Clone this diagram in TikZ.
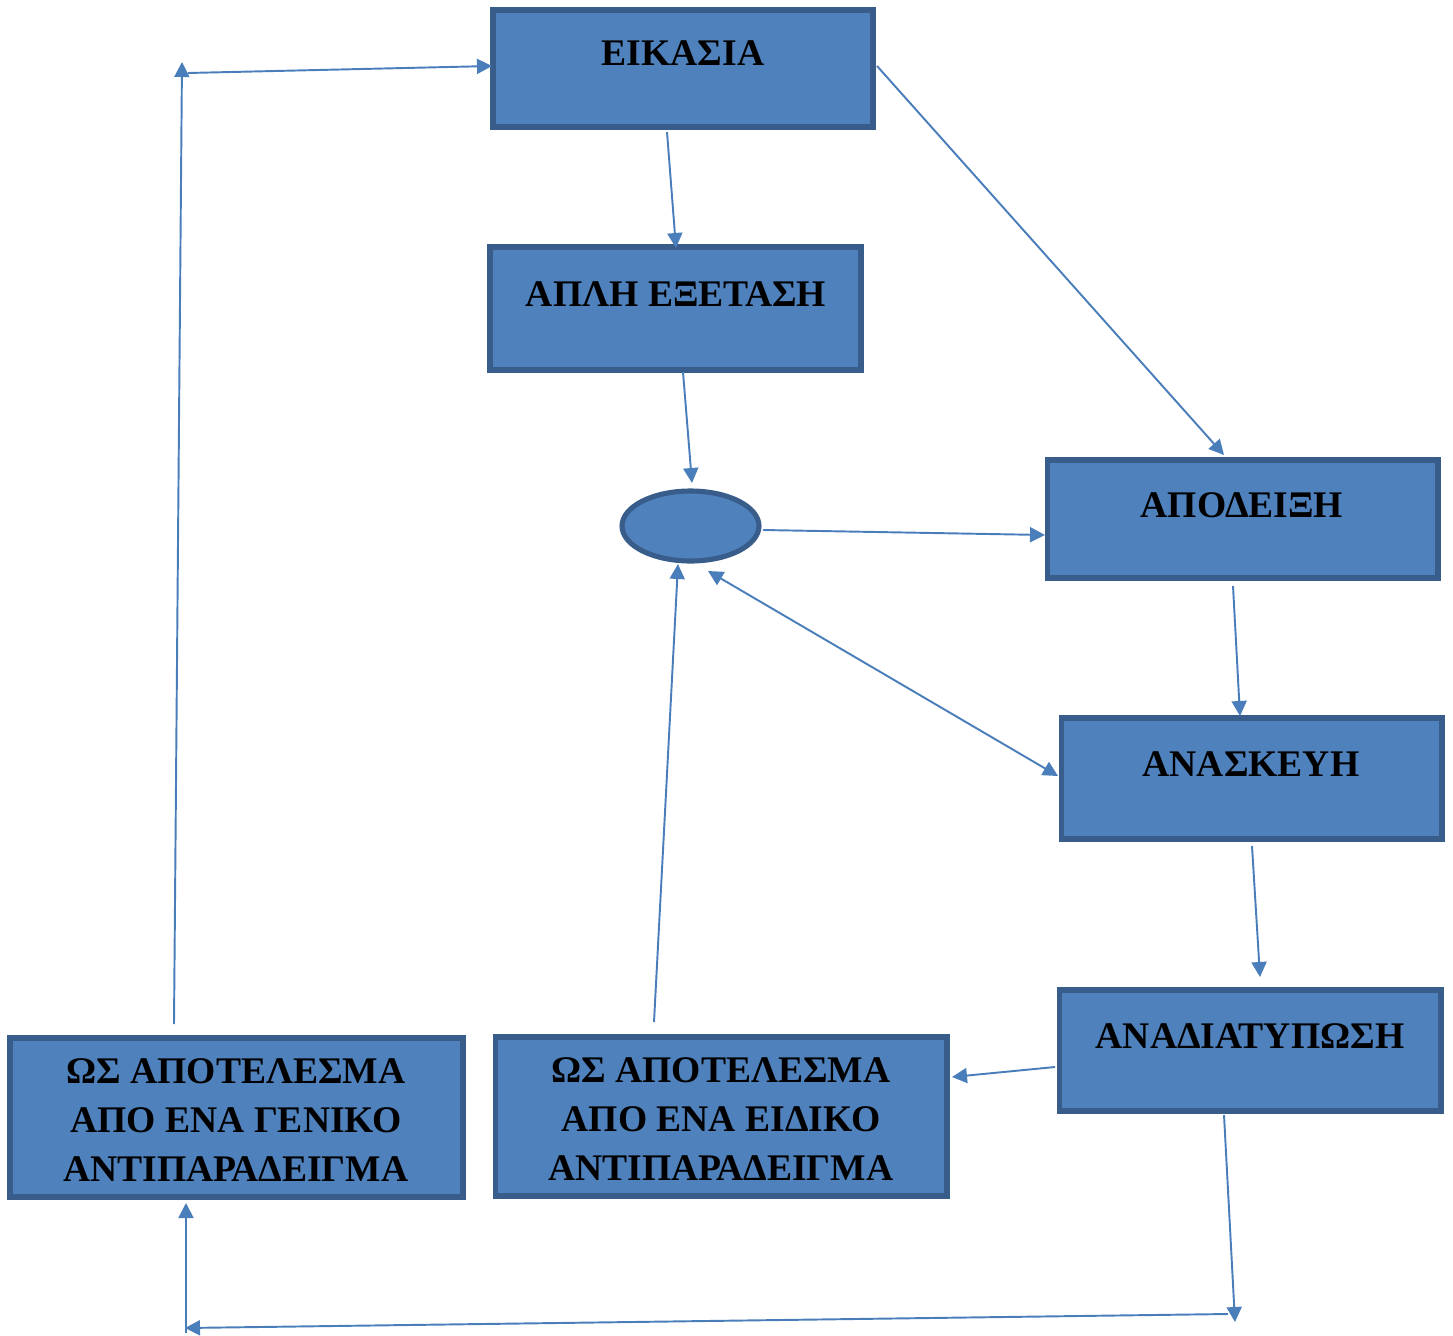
\documentclass[tikz,border=0pt]{standalone}
\usepackage{fontspec}
\setmainfont{Liberation Serif}
\usetikzlibrary{arrows.meta,shapes.geometric}
\definecolor{boxfill}{HTML}{4F81BD}
\definecolor{boxline}{HTML}{385D8A}
\definecolor{arr}{HTML}{4A7EBB}
\begin{document}
\begin{tikzpicture}[x=0.02cm,y=-0.02cm,
  box/.style={draw=boxline,fill=boxfill,line width=2.9pt,rectangle,inner sep=0pt},
  lbl/.style={font=\fontsize{21.4}{27.9}\selectfont\bfseries,align=center,inner sep=0pt,text=black},
  con/.style={draw=arr,line width=1.1pt,-{Triangle[length=0.3cm,width=0.3cm]}},
  con2/.style={draw=arr,line width=1.1pt,{Triangle[length=0.3cm,width=0.3cm]}-{Triangle[length=0.3cm,width=0.3cm]}}]
\useasboundingbox (0,0) rectangle (1453,1335);
% boxes
\node[box,minimum width=7.6cm,minimum height=2.34cm] (eik) at (683,68.5) {};
\node[box,minimum width=7.42cm,minimum height=2.46cm] (apl) at (675.5,308.5) {};
\node[box,ellipse,minimum width=2.74cm,minimum height=1.4cm] (ell) at (690.5,526) {};
\node[box,minimum width=7.82cm,minimum height=2.36cm] (apo) at (1242.5,519) {};
\node[box,minimum width=7.62cm,minimum height=2.42cm] (ana) at (1251.5,778.5) {};
\node[box,minimum width=7.64cm,minimum height=2.42cm] (anad) at (1250,1050.5) {};
\node[box,minimum width=9.04cm,minimum height=3.18cm] (eid) at (721,1116.5) {};
\node[box,minimum width=9.06cm,minimum height=3.18cm] (gen) at (236.5,1117.5) {};
% texts
\node[lbl] (eikT) at (683,53) {ΕΙΚΑΣΙΑ};
\node[lbl] (aplT) at (676,294) {ΑΠΛΗ ΕΞΕΤΑΣΗ};
\node[lbl] (apoT) at (1242,505) {ΑΠΟΔΕΙΞΗ};
\node[lbl] (anaT) at (1251,764) {ΑΝΑΣΚΕΥΗ};
\node[lbl] (anadT) at (1250,1036) {ΑΝΑΔΙΑΤΥΠΩΣΗ};
\node[lbl] (eidT) at (721,1119) {ΩΣ ΑΠΟΤΕΛΕΣΜΑ\\ΑΠΟ ΕΝΑ ΕΙΔΙΚΟ\\ΑΝΤΙΠΑΡΑΔΕΙΓΜΑ};
\node[lbl] (genT) at (236,1120) {ΩΣ ΑΠΟΤΕΛΕΣΜΑ\\ΑΠΟ ΕΝΑ ΓΕΝΙΚΟ\\ΑΝΤΙΠΑΡΑΔΕΙΓΜΑ};
% connector end points
\coordinate (a1) at (667,132); \coordinate (b1) at (676,248);
\coordinate (a2) at (877,66);  \coordinate (b2) at (1224,455);
\coordinate (a3) at (683,372); \coordinate (b3) at (692,483);
\coordinate (a4) at (763,530); \coordinate (b4) at (1045,535);
\coordinate (a5) at (1233,586); \coordinate (b5) at (1240,716);
\coordinate (a6) at (708,571); \coordinate (b6) at (1058,776);
\coordinate (a7) at (1252,846); \coordinate (b7) at (1260,977);
\coordinate (a8) at (1055,1067); \coordinate (b8) at (952,1077);
\coordinate (a9) at (654,1022); \coordinate (b9) at (678,564);
\coordinate (a10) at (174,1024); \coordinate (b10) at (182,62);
\coordinate (a11) at (188,73); \coordinate (b11) at (492,66);
\coordinate (a12) at (1224,1115); \coordinate (b12) at (1235,1322);
\coordinate (a13) at (1228,1314); \coordinate (b13) at (185,1328);
\coordinate (a14) at (186,1333); \coordinate (b14) at (186,1203);
% connectors
\draw[con] (a1) -- (b1);
\draw[con] (a2) -- (b2);
\draw[con] (a3) -- (b3);
\draw[con] (a4) -- (b4);
\draw[con] (a5) -- (b5);
\draw[con2] (a6) -- (b6);
\draw[con] (a7) -- (b7);
\draw[con] (a8) -- (b8);
\draw[con] (a9) -- (b9);
\draw[con] (a10) -- (b10);
\draw[con] (a11) -- (b11);
\draw[con] (a12) -- (b12);
\draw[con] (a13) -- (b13);
\draw[con] (a14) -- (b14);
\end{tikzpicture}
\end{document}
